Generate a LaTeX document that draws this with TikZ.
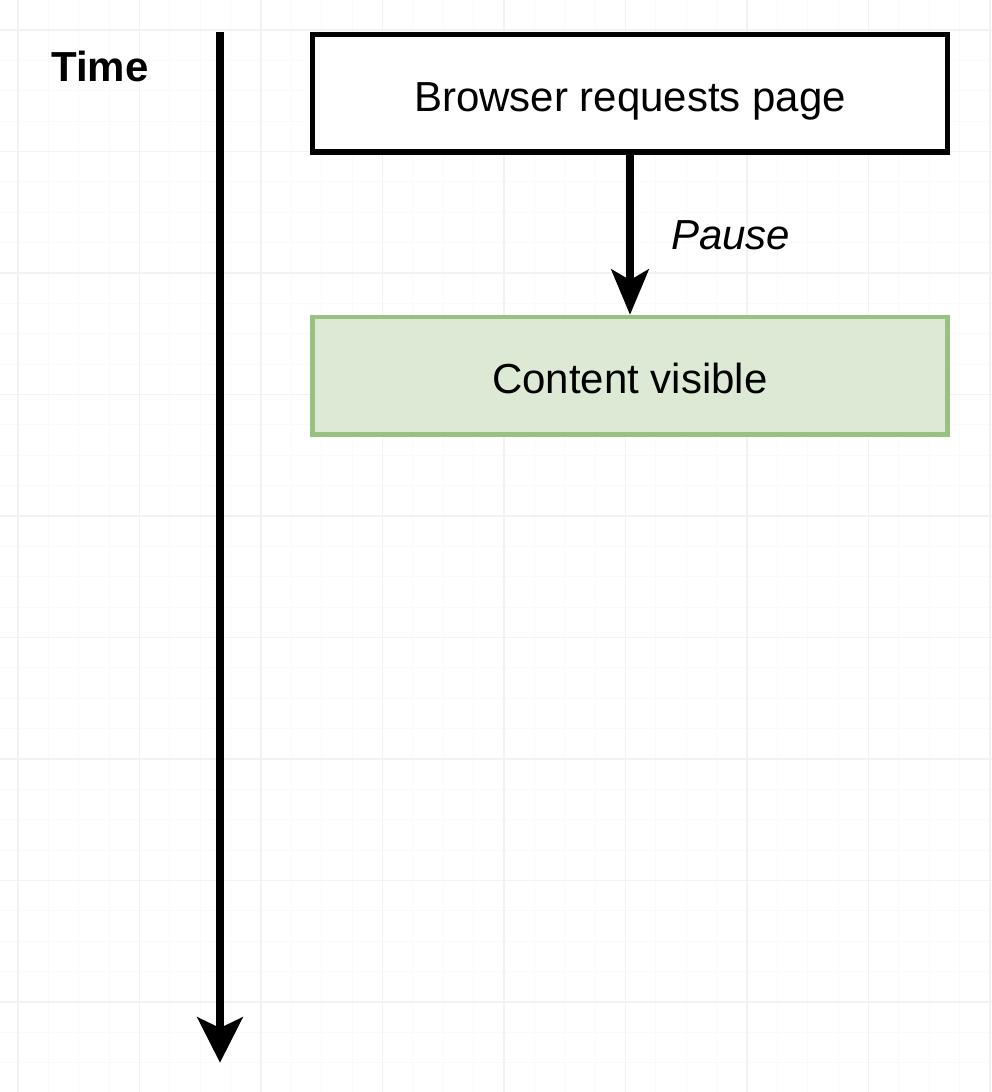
\documentclass[tikz,border=0pt]{standalone}
\usepackage{fontspec}
\setmainfont{Liberation Sans}
\usepackage{tikz}
\usetikzlibrary{arrows.meta, positioning}
\definecolor{GridMinor}{RGB}{250,250,250}
\definecolor{GridMajor}{RGB}{242,242,242}
\definecolor{MyGreen}{RGB}{220,234,213}
\definecolor{MyGreenLine}{RGB}{152,193,130}
\tikzstyle{arrow} = [-{Stealth[length=34pt, width=28pt, inset=8pt]}, draw=black, line width=5.5pt]
\tikzstyle{timeline} = [-{Stealth[length=34pt, width=34pt, inset=8pt]}, draw=black, line width=5.5pt]
\tikzstyle{event} = [draw=black, line width=4pt, fill=white, text height=26.4pt, text depth=0pt]
\tikzstyle{result} = [draw=MyGreenLine, line width=3.5pt, fill=MyGreen, text height=26.4pt, text depth=0pt]
\tikzstyle{pausetext} = [font=\fontsize{31.5}{38}\selectfont\itshape]

\begin{document}
\begin{tikzpicture}[rectangle, node distance=120pt, text centered, minimum width=476pt, minimum height=88pt, inner sep=0pt, font=\fontsize{31.5}{38}\selectfont]
	\useasboundingbox (0,0) rectangle (744pt,-819pt);
	% GRID
	\foreach \i in {0,...,32} {
		\draw[GridMinor, line width=0.6pt] ({13.5pt+\i*22.78pt},0) -- ++(0,-819pt);
	}
	\foreach \i in {0,...,35} {
		\draw[GridMinor, line width=0.6pt] (0,{-22.5pt-\i*22.78pt}) -- ++(744pt,0);
	}
	\foreach \i in {0,...,8} {
		\draw[GridMajor, line width=0.8pt] ({13.5pt+\i*91.125pt},0) -- ++(0,-819pt);
		\draw[GridMajor, line width=0.8pt] (0,{-22.5pt-\i*91.125pt}) -- ++(744pt,0);
	}

	% TIME
	\coordinate (tstart) at (165pt,-24pt);
	\coordinate (tend) at (165pt,-797pt);
	\node (time) [font=\fontsize{31.5}{38}\selectfont\bfseries, minimum width=0pt, minimum height=0pt] at (75pt,-49.5pt) {Time};
	\draw [timeline] (tstart) -- (tend);

	% STEPS
	\node (browser) [event] at (472.5pt,-70.1pt) {Browser requests page};
	\node (content) [below = of browser, result] {Content visible};

	\draw [arrow] (browser) -- node[right=28pt, pausetext, minimum width=0pt, minimum height=0pt] {Pause} (content);
\end{tikzpicture}
\end{document}
